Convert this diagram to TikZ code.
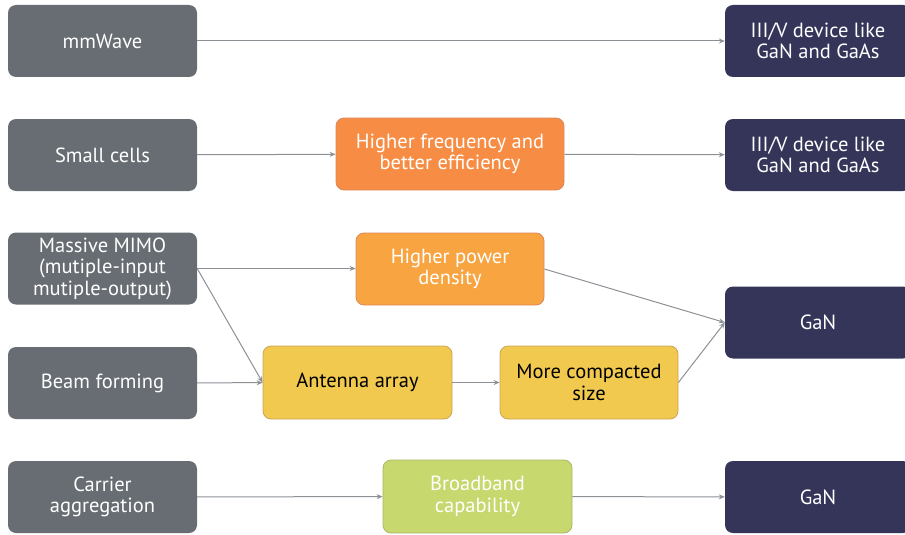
\documentclass[tikz,border=0pt]{standalone}
\usepackage{fontspec}
\setmainfont{PT Sans}
\usetikzlibrary{arrows.meta}
\definecolor{cgray}{HTML}{676D72}
\definecolor{cnavy}{HTML}{35355A}
\definecolor{corange}{HTML}{F78D44}
\definecolor{corangeb}{HTML}{D9895C}
\definecolor{clorange}{HTML}{F8A441}
\definecolor{cyellow}{HTML}{F2C94F}
\definecolor{cyellowb}{HTML}{C9A45C}
\definecolor{cgreen}{HTML}{C7D86E}
\definecolor{cgreenb}{HTML}{A9B86A}
\definecolor{carrow}{HTML}{8C9196}
\tikzset{
  box/.style={rounded corners=8pt, inner sep=0pt, align=center,
    font=\fontsize{20.5}{21.5}\selectfont},
  graybox/.style={box, fill=cgray, text=white, minimum width=189pt, minimum height=72pt},
  navybox/.style={box, fill=cnavy, text=white, minimum width=186pt, minimum height=72pt},
  orangebox/.style={box, fill=corange, draw=corangeb, line width=0.8pt, text=white},
  lorangebox/.style={box, fill=clorange, draw=corangeb, line width=0.8pt, text=white},
  yellowbox/.style={box, fill=cyellow, draw=cyellowb, line width=0.8pt, text=black},
  greenbox/.style={box, fill=cgreen, draw=cgreenb, line width=0.8pt, text=white},
  conn/.style={draw=carrow, line width=1pt, -{Stealth[length=6pt,width=5pt]}}
}
\begin{document}
\begin{tikzpicture}[x=1pt,y=-1pt]
\useasboundingbox (0,0) rectangle (905,535);
% left column
\node[graybox] (mm) at (102.5,41) {mmWave};
\node[graybox] (sc) at (102.5,155) {Small cells};
\node[graybox] (mimo) at (102.5,268.5) {Massive MIMO\\(mutiple-input\\mutiple-output)};
\node[graybox] (bf) at (102.5,383) {Beam forming};
\node[graybox] (ca) at (102.5,497) {Carrier\\aggregation};
% middle
\node[orangebox, minimum width=228pt, minimum height=72pt] (hf) at (450,154) {Higher frequency and\\better efficiency};
\node[lorangebox, minimum width=188pt, minimum height=72pt] (hp) at (450,269) {Higher power\\density};
\node[yellowbox, minimum width=189pt, minimum height=73pt] (aa) at (357.5,382.5) {Antenna array};
\node[yellowbox, minimum width=178pt, minimum height=73pt] (mc) at (589,382.5) {More compacted\\size};
\node[greenbox, minimum width=189pt, minimum height=73pt] (bb) at (477.5,496.5) {Broadband\\capability};
% right column
\node[navybox] (r1) at (818,41) {III/V device like\\GaN and GaAs};
\node[navybox] (r2) at (818,155) {III/V device like\\GaN and GaAs};
\node[navybox] (r3) at (818,322.5) {GaN};
\node[navybox] (r4) at (818,497) {GaN};
% connectors
\draw[conn] (mm) -- (r1);
\draw[conn] (sc) -- (hf);
\draw[conn] (hf) -- (r2);
\draw[conn] (mimo.east) -- (mimo.east -| hp.west);
\draw[conn] (mimo.east) -- (aa.west);
\draw[conn] (bf) -- (aa);
\draw[conn] (aa) -- (mc);
\draw[conn] (hp.east) -- (r3.west);
\draw[conn] (mc.east) -- (r3.west);
\draw[conn] (ca) -- (bb);
\draw[conn] (bb) -- (r4);
\end{tikzpicture}
\end{document}
